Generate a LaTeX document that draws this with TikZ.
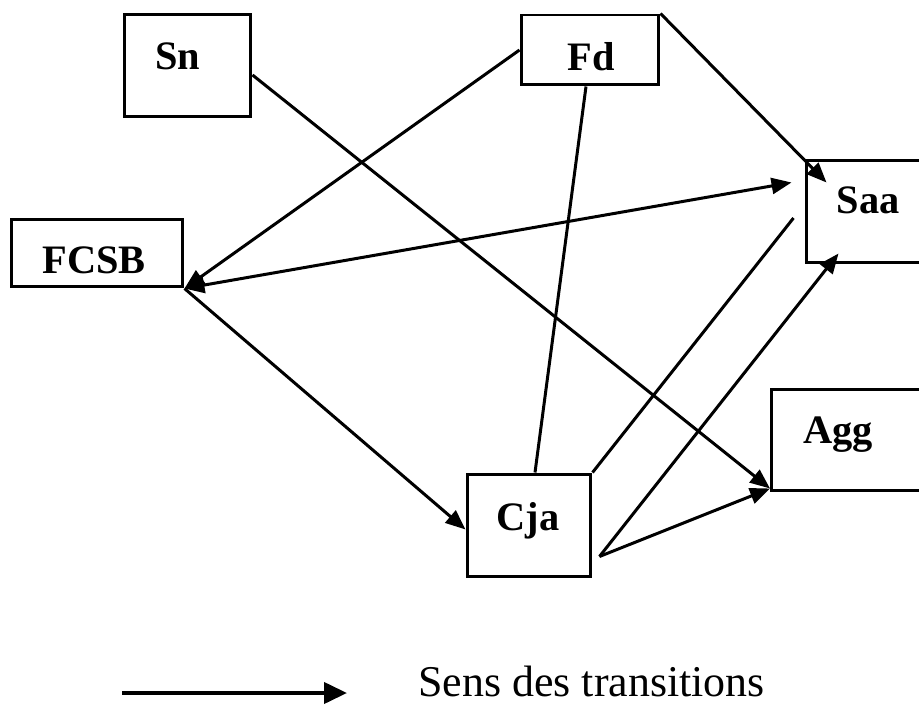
\documentclass[tikz,border=0pt]{standalone}
\usepackage{fontspec}
\setmainfont{Liberation Serif}
\usetikzlibrary{arrows.meta,calc}
\begin{document}
\begin{tikzpicture}[x=0.02cm,y=-0.02cm,
 >={Triangle[length=0.4cm,width=0.32cm]},
 etat/.style={draw,line width=0.06cm,inner sep=0pt},
 etiq/.style={inner sep=0pt,font=\fontsize{23}{28}\selectfont\bfseries},
 trans/.style={line width=0.06cm,->},
 lien/.style={line width=0.06cm},
 ]
 \useasboundingbox (0,0) rectangle (919,705);
 \clip (0,0) rectangle (919,705);
 \foreach \n/\t/\x/\y/\w/\h/\dx/\dy in {sn/Sn/187.5/65.5/2.54/2.06/-9.5/-9,
 fd/Fd/590/50/2.76/1.40/1/6.5,
 fcsb/FCSB/97/253/3.44/1.36/-3/7,
 saa/Saa/868/211.5/2.48/2.06/0/-11.5,
 agg/Agg/848/440/3.06/2.04/-10/-5.5,
 cja/Cja/529/525.5/2.48/2.06/-1/-5} {
 	\node[etat,minimum width=\w cm,minimum height=\h cm,
 	label={[etiq,shift={(\dx,\dy)}]center:\t}] (\n) at (\x,\y) {};
 }
 
 \coordinate (cjaout) at ($(cja.east)+(7,31)$);
 \draw[trans] ($(sn.east)+(0,9.5)$) -- ($(agg.south west)+(0,-4)$);
 \draw[trans] (fd.west) -- (fcsb.south east);
 \draw[trans,<->] (fcsb.south east) -- ($(saa.west)+(-13,-29)$);
 \draw[trans] (fd.north east) -- ($(saa.north west)+(22,24)$);
 \draw[lien] ($(fd.south)+(-4,0)$) -- ($(cja.north)+(6,0)$);
 \draw[trans] (fcsb.south east) -- ($(cja.west)+(0,4)$);
 \draw[lien] (cja.north east) -- ($(saa.west)+(-11,6.5)$);
 \draw[trans] (cjaout) -- ($(saa.south west)+(34,-11)$);
 \draw[trans] (cjaout) -- ($(agg.south west)+(0,-4)$);
 
 %Legende
 \coordinate (lg1) at (122,693);
 \coordinate (lg2) at (347,693);
 \draw[line width=0.08cm,-{Triangle[length=0.46cm,width=0.42cm]}] (lg1) -- (lg2);
 \node[anchor=base west,inner sep=0pt,text depth=0pt,font=\fontsize{25}{30}\selectfont] (leg) at (418,696) {Sens des transitions};
\end{tikzpicture}
\end{document}
